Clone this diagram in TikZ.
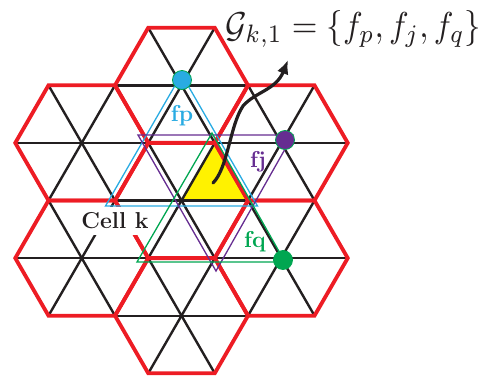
\documentclass[tikz,border=0pt]{standalone}
\usepackage{fontspec}
\usetikzlibrary{arrows.meta}
\definecolor{hexred}{HTML}{ED1C24}
\definecolor{fpblue}{HTML}{29ABE2}
\definecolor{fjpurple}{HTML}{662D91}
\definecolor{fqgreen}{HTML}{00A651}
\definecolor{cellyellow}{HTML}{FFF200}
\definecolor{textdark}{HTML}{231F20}
\begin{document}
\begin{tikzpicture}[x=1pt,y=-1pt,
  gridline/.style={line width=2.4pt, textdark},
  hexline/.style={line width=3.8pt, hexred, line join=miter},
  tri/.style={line width=1.3pt, line join=miter},
  dot/.style={circle, minimum size=19pt, inner sep=0pt, draw=fqgreen, line width=0.8pt},
  lbl/.style={font=\fontsize{23}{25}\selectfont\bfseries, inner sep=0pt},
]
\useasboundingbox (0,0) rectangle (488,378);
\def\s{66.5}
% yellow cell triangle
\fill[cellyellow] (181.5,200.5) -- (214.75,142.9) -- (248,200.5) -- cycle;
% triangle grid inside every hexagon
\foreach \cx/\cy in {181.5/200.5, 181.5/85.3, 181.5/315.7, 81.75/142.9, 81.75/258.1, 281.25/142.9, 281.25/258.1}{
  \begin{scope}[shift={(\cx,\cy)}]
    \draw[gridline] (0:\s) -- (180:\s);
    \draw[gridline] (60:\s) -- (240:\s);
    \draw[gridline] (120:\s) -- (300:\s);
  \end{scope}
}
% hexagon outlines
\foreach \cx/\cy in {181.5/200.5, 181.5/85.3, 181.5/315.7, 81.75/142.9, 81.75/258.1, 281.25/142.9, 281.25/258.1}{
  \begin{scope}[shift={(\cx,\cy)}]
    \draw[hexline] (0:\s) -- (60:\s) -- (120:\s) -- (180:\s) -- (240:\s) -- (300:\s) -- cycle;
  \end{scope}
}
% frequency triangles
\draw[tri, fpblue] (181.5,74.3) -- (105.5,206) -- (257.5,206) -- cycle;
\draw[tri, fjpurple] (138,135) -- (293,135) -- (216,271) -- cycle;
\draw[tri, fqgreen] (212,133) -- (137,262) -- (285,262) -- cycle;
% dots
\node[dot, fill=fpblue] (dp) at (182,80) {};
\node[dot, fill=fjpurple] (dj) at (285,140) {};
\node[dot, fill=fqgreen] (dq) at (283,260) {};
% labels
\node[lbl, text=fpblue] (lp) at (182,116) {fp};
\node[lbl, text=fjpurple] (lj) at (258,162) {fj};
\node[lbl, text=fqgreen] (lq) at (255,242) {fq};
\node[lbl, text=textdark, fill=white, inner xsep=3pt, inner ysep=6pt] (cellk) at (115,221) {Cell k};
% formula and arrow
\node[text=textdark, inner sep=0pt, xscale=3.3, yscale=3.6] (formula) at (353.5,29) {$\mathcal{G}_{k,1}=\left\{f_p,f_j,f_q\right\}$};
\coordinate (arrstart) at (213,183);
\coordinate (arrtip) at (288,60);
\draw[line width=3.2pt, textdark, line cap=round, -{Latex[length=14pt,width=12pt]}]
  (arrstart) .. controls (228,168) and (230,125) .. (243,106)
  .. controls (255,92) and (276,90) .. (arrtip);
\end{tikzpicture}
\end{document}
